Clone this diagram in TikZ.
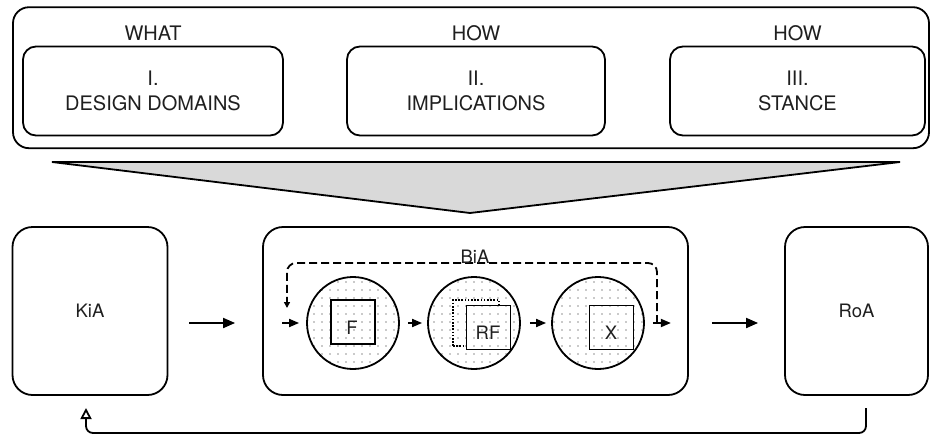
\documentclass[tikz,border=0pt]{standalone}
\usepackage{fontspec}
\setmainfont{TeX Gyre Heros}
\usetikzlibrary{arrows.meta}
\definecolor{ink}{gray}{0.12}
\definecolor{dotcol}{gray}{0.58}
\definecolor{funnel}{gray}{0.85}
% regular grid of small grey dots covering the BiA stage (use inside a clip)
\newcommand\dotgrid{%
  \foreach \i in {37,...,82}{%
    \foreach \j in {34,...,47}{%
      \fill[dotcol] (\i*8+2,\j*8+2) circle[radius=0.9pt];}}}
\begin{document}
\begin{tikzpicture}[x=1pt,y=-1pt,line width=1.8pt,
  toptext/.style={font=\fontsize{20}{25}\selectfont,text=ink},
  bottext/.style={font=\fontsize{18.5}{22}\selectfont,text=ink},
  panel/.style={draw,rounded corners=13pt,minimum height=89pt,align=center,toptext},
  stagebox/.style={draw,rounded corners=20pt,minimum height=168pt,bottext},
  ring/.style={draw,circle,minimum size=92pt,inner sep=0pt},
  sqbox/.style={draw,minimum size=44pt,inner sep=0pt},
  flow/.style={-{Triangle[length=10pt,width=8pt]},line width=1.8pt},
  bigflow/.style={-{Triangle[length=12pt,width=10pt]},line width=1.8pt},
]
\useasboundingbox (0,0) rectangle (930,437);

% ---- upper frame: what / how ----
\node[draw,rounded corners=16pt,minimum width=916pt,minimum height=141pt] (outer) at (471,77.7) {};
\node[panel,minimum width=260pt] (dd)  at (153,91)   {I.\\DESIGN DOMAINS};
\node[panel,minimum width=258pt] (imp) at (476,91)   {II.\\IMPLICATIONS};
\node[panel,minimum width=255pt] (st)  at (797.5,91) {III.\\STANCE};
\node[toptext] (what) at (153,33)   {WHAT};
\node[toptext] (how1) at (476,33)   {HOW};
\node[toptext] (how2) at (797.5,33) {HOW};

% ---- funnel ----
\coordinate (fnl) at (52,162);
\coordinate (fnr) at (900,162);
\coordinate (fnt) at (470,213);
\draw[fill=funnel] (fnl) -- (fnr) -- (fnt) -- cycle;

% ---- lower stages ----
\node[stagebox,minimum width=155pt] (kia) at (90,311) {KiA};
\node[draw,rounded corners=20pt,minimum width=425pt,minimum height=168pt] (bia) at (475.5,311) {};
\node[stagebox,minimum width=143pt] (roa) at (856.5,311) {RoA};

% dotted discs
\coordinate (cF) at (353,323);
\coordinate (cR) at (474,323);
\coordinate (cX) at (598,323);
\begin{scope}
  \clip (cF) circle[radius=46pt] (cR) circle[radius=46pt] (cX) circle[radius=46pt];
  \dotgrid
\end{scope}

% dotted square behind RF, then the RF square on top of it
\node[sqbox,minimum size=46pt,line width=1.6pt,dash pattern=on 1.6pt off 1.6pt] (rfback) at (476,323) {};
\node[sqbox,draw=none,fill=white] (rfbase) at (488.5,327.5) {};
\begin{scope}
  \clip (rfbase.south west) rectangle (rfbase.north east);
  \dotgrid
\end{scope}

\node[ring] (f)  at (cF) {};
\node[ring] (rf) at (cR) {};
\node[ring] (x)  at (cX) {};
\node[sqbox] (fsq)  at (353,322)     {};
\node[sqbox] (rfsq) at (488.5,327.5) {};
\node[sqbox] (xsq)  at (611.5,327.5) {};
\node[bottext] (ftxt)  at (352,327.5) {F};
\node[bottext] (rftxt) at (488,333)   {RF};
\node[bottext] (xtxt)  at (611,333)   {X};

% flow arrows
\draw[bigflow,shorten <=21pt,shorten >=27pt] (kia.east |- cF) -- (bia.west |- cF);
\draw[bigflow,shorten <=23pt,shorten >=26pt] (bia.east |- cF) -- (roa.west |- cF);
\draw[flow,shorten <=20pt,shorten >=7pt] (bia.west |- f.west) -- (f.west);
\draw[flow,shorten <=8pt,shorten >=5pt] (f.east) -- (rf.west);
\draw[flow,shorten <=9pt,shorten >=5pt] (rf.east) -- (x.west);
\draw[flow,shorten <=8pt,shorten >=18pt] (x.east) -- (bia.east |- x.east);

% iteration loop
\coordinate (loopR) at (657,323);
\coordinate (loopTop) at (475,263);
\coordinate (loopL) at (287,308);
\draw[dash pattern=on 8pt off 4pt,rounded corners=9pt,line width=1.8pt,
      -{Triangle[length=6pt,width=6pt]}] (loopR) |- (loopTop) -| (loopL);
\node[bottext] (bialbl) at (475,257) {BiA};

% feedback from RoA back to KiA
\coordinate (fbR) at (866,408);
\coordinate (fbBot) at (476,433);
\coordinate (fbL) at (86,408);
\draw[-{Triangle[open,length=11pt,width=11pt]},rounded corners=7pt,line width=1.8pt]
  (fbR) |- (fbBot) -| (fbL);
\end{tikzpicture}
\end{document}
